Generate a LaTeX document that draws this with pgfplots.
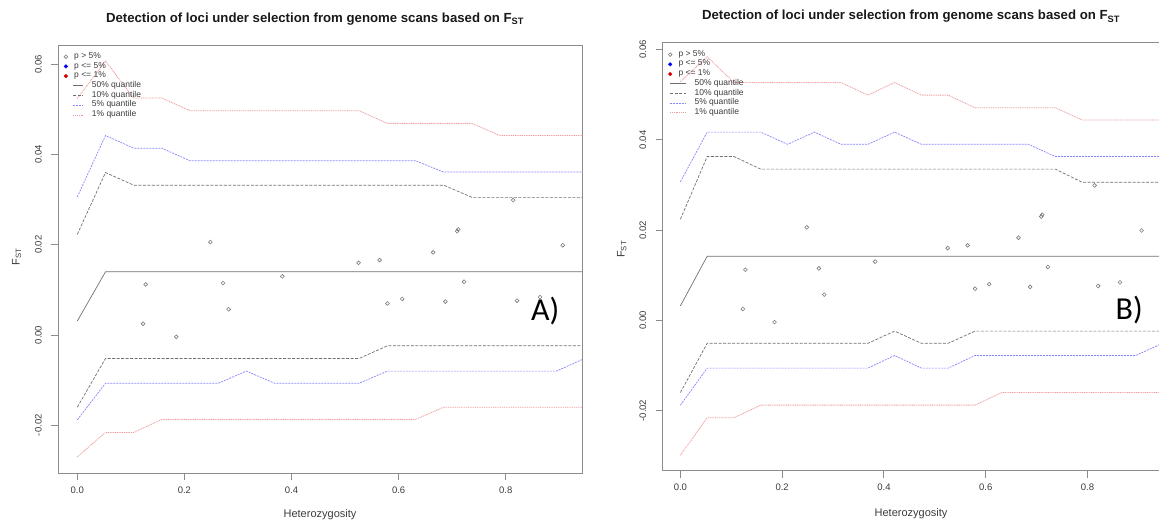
\documentclass[border=0pt]{standalone}
\usepackage{fontspec}
\setmainfont{Liberation Sans}
\newfontfamily\carlito{Carlito}
\usepackage{pgfplots}
\usepackage{pgfplotstable}
\pgfplotsset{compat=1.18}

\definecolor{qgray}{HTML}{707070}
\definecolor{qblue}{HTML}{8585FF}
\definecolor{qred}{HTML}{F09A9A}
\definecolor{ptgray}{HTML}{7A7A7A}
\definecolor{framegray}{HTML}{8C8C8C}
\definecolor{labgray}{HTML}{3C3C3C}

% quantile curves, panel A (x = heterozygosity grid)
\pgfplotstableread{
x       r1u    b5u    k10u   med    k10l    b5l     r1l
0.00000 0.0524 0.0306 0.0223 0.0031 -0.0160 -0.0188 -0.0270
0.05263 0.0607 0.0442 0.0360 0.0140 -0.0052 -0.0107 -0.0216
0.10526 0.0525 0.0414 0.0332 0.0140 -0.0052 -0.0107 -0.0216
0.15789 0.0525 0.0414 0.0332 0.0140 -0.0052 -0.0107 -0.0187
0.21053 0.0497 0.0386 0.0332 0.0140 -0.0052 -0.0107 -0.0187
0.26316 0.0497 0.0386 0.0332 0.0140 -0.0052 -0.0107 -0.0187
0.31579 0.0497 0.0386 0.0332 0.0140 -0.0052 -0.0080 -0.0187
0.36842 0.0497 0.0386 0.0332 0.0140 -0.0052 -0.0107 -0.0187
0.42105 0.0497 0.0386 0.0332 0.0140 -0.0052 -0.0107 -0.0187
0.47368 0.0497 0.0386 0.0332 0.0140 -0.0052 -0.0107 -0.0187
0.52632 0.0497 0.0386 0.0332 0.0140 -0.0052 -0.0107 -0.0187
0.57895 0.0469 0.0386 0.0332 0.0140 -0.0024 -0.0080 -0.0187
0.63158 0.0469 0.0386 0.0332 0.0140 -0.0024 -0.0080 -0.0187
0.68421 0.0469 0.0361 0.0332 0.0140 -0.0024 -0.0080 -0.0160
0.73684 0.0469 0.0361 0.0305 0.0140 -0.0024 -0.0080 -0.0160
0.78947 0.0442 0.0361 0.0305 0.0140 -0.0024 -0.0080 -0.0160
0.84211 0.0442 0.0361 0.0305 0.0140 -0.0024 -0.0080 -0.0160
0.89474 0.0442 0.0361 0.0305 0.0140 -0.0024 -0.0080 -0.0160
0.94737 0.0442 0.0361 0.0305 0.0140 -0.0024 -0.0052 -0.0160
1.00000 0.0442 0.0361 0.0305 0.0140 -0.0024 -0.0024 -0.0160
}\quantA

% quantile curves, panel B
\pgfplotstableread{
x       r1u    b5u    k10u   med    k10l    b5l     r1l
0.00000 0.0529 0.0307 0.0224 0.0032 -0.0160 -0.0188 -0.0299
0.05263 0.0584 0.0417 0.0363 0.0142 -0.0051 -0.0106 -0.0216
0.10526 0.0527 0.0417 0.0363 0.0142 -0.0051 -0.0106 -0.0216
0.15789 0.0527 0.0417 0.0335 0.0142 -0.0051 -0.0106 -0.0188
0.21053 0.0527 0.0390 0.0335 0.0142 -0.0051 -0.0106 -0.0188
0.26316 0.0527 0.0417 0.0335 0.0142 -0.0051 -0.0106 -0.0188
0.31579 0.0527 0.0390 0.0335 0.0142 -0.0051 -0.0106 -0.0188
0.36842 0.0499 0.0390 0.0335 0.0142 -0.0051 -0.0106 -0.0188
0.42105 0.0527 0.0417 0.0335 0.0142 -0.0024 -0.0078 -0.0188
0.47368 0.0499 0.0390 0.0335 0.0142 -0.0051 -0.0106 -0.0188
0.52632 0.0499 0.0390 0.0335 0.0142 -0.0051 -0.0106 -0.0188
0.57895 0.0471 0.0390 0.0335 0.0142 -0.0024 -0.0078 -0.0188
0.63158 0.0471 0.0390 0.0335 0.0142 -0.0024 -0.0078 -0.0160
0.68421 0.0471 0.0390 0.0335 0.0142 -0.0024 -0.0078 -0.0160
0.73684 0.0471 0.0363 0.0335 0.0142 -0.0024 -0.0078 -0.0160
0.78947 0.0444 0.0363 0.0306 0.0142 -0.0024 -0.0078 -0.0160
0.84211 0.0444 0.0363 0.0306 0.0142 -0.0024 -0.0078 -0.0160
0.89474 0.0444 0.0363 0.0306 0.0142 -0.0024 -0.0078 -0.0160
0.94737 0.0444 0.0363 0.0306 0.0142 -0.0024 -0.0051 -0.0160
1.00000 0.0444 0.0363 0.0306 0.0142 -0.0024 -0.0024 -0.0160
}\quantB

% observed loci (heterozygosity, Fst)
\pgfplotstableread{
x      y
0.1227 0.0025
0.1277 0.0112
0.1849 -0.0004
0.2484 0.0206
0.2721 0.0115
0.2827 0.0057
0.3828 0.0130
0.5252 0.0160
0.5645 0.0166
0.5792 0.0070
0.6069 0.0080
0.6645 0.0183
0.6874 0.0074
0.7093 0.0230
0.7113 0.0234
0.7222 0.0118
0.8140 0.0299
0.8211 0.0076
0.8640 0.0084
0.9065 0.0199
}\loci

% line looks, shared by the curves and the legend samples
\tikzset{
  q50/.style={draw=qgray, line width=0.7pt},
  q10/.style={draw=qgray, line width=0.7pt, dash pattern=on 3pt off 1.5pt},
  q5/.style={draw=qblue, line width=0.7pt, dash pattern=on 2pt off 1pt},
  q1/.style={draw=qred, line width=0.8pt, dash pattern=on 1pt off 0.8pt},
}

\pgfplotsset{
  rplot/.style={
    scale only axis,
    axis line style={framegray, line width=0.9pt},
    tick style={framegray, line width=0.9pt},
    tick align=outside, major tick length=7pt, tick pos=left,
    scaled ticks=false,
    xtick={0,0.2,0.4,0.6,0.8}, xticklabels={0.0,0.2,0.4,0.6,0.8},
    ytick={-0.02,0,0.02,0.04,0.06}, yticklabels={-0.02,0.00,0.02,0.04,0.06},
    ticklabel style={labgray, font=\fontsize{9.5}{11}\selectfont},
    yticklabel style={rotate=90, anchor=south},
    xticklabel style={anchor=north},
    yticklabel shift=6pt, xticklabel shift=3pt,
    legend cell align=left,
    legend style={draw=none, fill=none, anchor=north west, row sep=0pt,
      column sep=8pt, inner sep=0pt, text=labgray,
      font=\fontsize{8.5}{9.7}\selectfont,
      nodes={inner sep=0pt, text height=6.5pt, text depth=3.2pt}},
  },
  pts/.style={only marks, mark=o, color=ptgray, mark size=1.9pt, mark options={line width=0.6pt}},
  % legend samples, panel A: circle left of the line samples
  dotA/.style={legend image code/.code={\path[draw=none,fill=none] (-10pt,-1pt) rectangle (10pt,1pt);
      \draw[#1] (-7.6pt,0pt) circle[radius=1.8pt];}},
  lineA/.style={legend image code/.code={\path[draw=none,fill=none] (-10pt,-1pt) rectangle (10pt,1pt);
      \draw[#1] (0pt,0pt) -- (10pt,0pt);}},
  % legend samples, panel B: circle at the start of the line samples
  dotB/.style={legend image code/.code={\path[draw=none,fill=none] (-2.5pt,-1pt) rectangle (16pt,1pt);
      \draw[#1] (0pt,0pt) circle[radius=1.8pt];}},
  lineB/.style={legend image code/.code={\path[draw=none,fill=none] (-2.5pt,-1pt) rectangle (16pt,1pt);
      \draw[#1] (0pt,0pt) -- (16pt,0pt);}},
}

\begin{document}
\begin{tikzpicture}[x=1pt,y=1pt]
\useasboundingbox (0,0) rectangle (1159,524);

% ---------------- panel A ----------------
\begin{axis}[rplot, at={(58.3pt,51pt)}, anchor=south west,
    width=524pt, height=427.3pt,
    xmin=-0.0355, xmax=0.943, ymin=-0.03058, ymax=0.06411,
    legend style={at={(0.0095,0.986)}}]
\addplot[pts, dotA={draw=ptgray, line width=0.6pt}] table {\loci};
\addlegendentry{\hspace{-17.7pt}p > 5\%}
\addlegendimage{dotA={draw=blue, fill=blue}}
\addlegendentry{\hspace{-17.7pt}p <= 5\%}
\addlegendimage{dotA={draw=red!85!black, fill=red!85!black}}
\addlegendentry{\hspace{-17.7pt}p <= 1\%}
\addplot[q50, lineA=q50] table[y=med] {\quantA};
\addlegendentry{50\% quantile}
\addplot[q10, lineA=q10] table[y=k10u] {\quantA};
\addlegendentry{10\% quantile}
\addplot[q5, lineA=q5] table[y=b5u] {\quantA};
\addlegendentry{5\% quantile}
\addplot[q1, lineA=q1] table[y=r1u] {\quantA};
\addlegendentry{1\% quantile}
\addplot[q10, forget plot] table[y=k10l] {\quantA};
\addplot[q5, forget plot] table[y=b5l] {\quantA};
\addplot[q1, forget plot] table[y=r1l] {\quantA};
\end{axis}

% ---------------- panel B ----------------
\begin{axis}[rplot, at={(662.7pt,53.3pt)}, anchor=south west,
    width=497.5pt, height=428.4pt,
    xmin=-0.0348, xmax=0.943, ymin=-0.03333, ymax=0.06161,
    legend style={at={(0.0096,0.983)}}]
\addplot[pts, dotB={draw=ptgray, line width=0.6pt}] table {\loci};
\addlegendentry{\hspace{-16pt}p > 5\%}
\addlegendimage{dotB={draw=blue, fill=blue}}
\addlegendentry{\hspace{-16pt}p <= 5\%}
\addlegendimage{dotB={draw=red!85!black, fill=red!85!black}}
\addlegendentry{\hspace{-16pt}p <= 1\%}
\addplot[q50, lineB=q50] table[y=med] {\quantB};
\addlegendentry{50\% quantile}
\addplot[q10, lineB=q10] table[y=k10u] {\quantB};
\addlegendentry{10\% quantile}
\addplot[q5, lineB=q5] table[y=b5u] {\quantB};
\addlegendentry{5\% quantile}
\addplot[q1, lineB=q1] table[y=r1u] {\quantB};
\addlegendentry{1\% quantile}
\addplot[q10, forget plot] table[y=k10l] {\quantB};
\addplot[q5, forget plot] table[y=b5l] {\quantB};
\addplot[q1, forget plot] table[y=r1l] {\quantB};
\end{axis}

% titles, axis labels, panel letters
\node[anchor=base, font=\bfseries\fontsize{13.2}{15}\selectfont, black!90]
  at (315,501.7) {Detection of loci under selection from genome scans based on F\textsubscript{ST}};
\node[anchor=base, font=\bfseries\fontsize{13.2}{15}\selectfont, black!90]
  at (911,504) {Detection of loci under selection from genome scans based on F\textsubscript{ST}};
\node[anchor=base, font=\fontsize{11}{12}\selectfont, labgray] at (320,6) {Heterozygosity};
\node[anchor=base, font=\fontsize{11}{12}\selectfont, labgray] at (911,7.5) {Heterozygosity};
\node[rotate=90, font=\fontsize{11}{12}\selectfont, labgray] at (16.6,267.3) {F\textsubscript{ST}};
\node[rotate=90, font=\fontsize{11}{12}\selectfont, labgray] at (621.7,274.7) {F\textsubscript{ST}};
\node[anchor=base west, inner sep=0pt, font=\carlito\fontsize{32}{34}\selectfont] at (531,203) {A)};
\node[anchor=base west, inner sep=0pt, font=\carlito\fontsize{32}{34}\selectfont] at (1115.5,204) {B)};
\end{tikzpicture}
\end{document}
